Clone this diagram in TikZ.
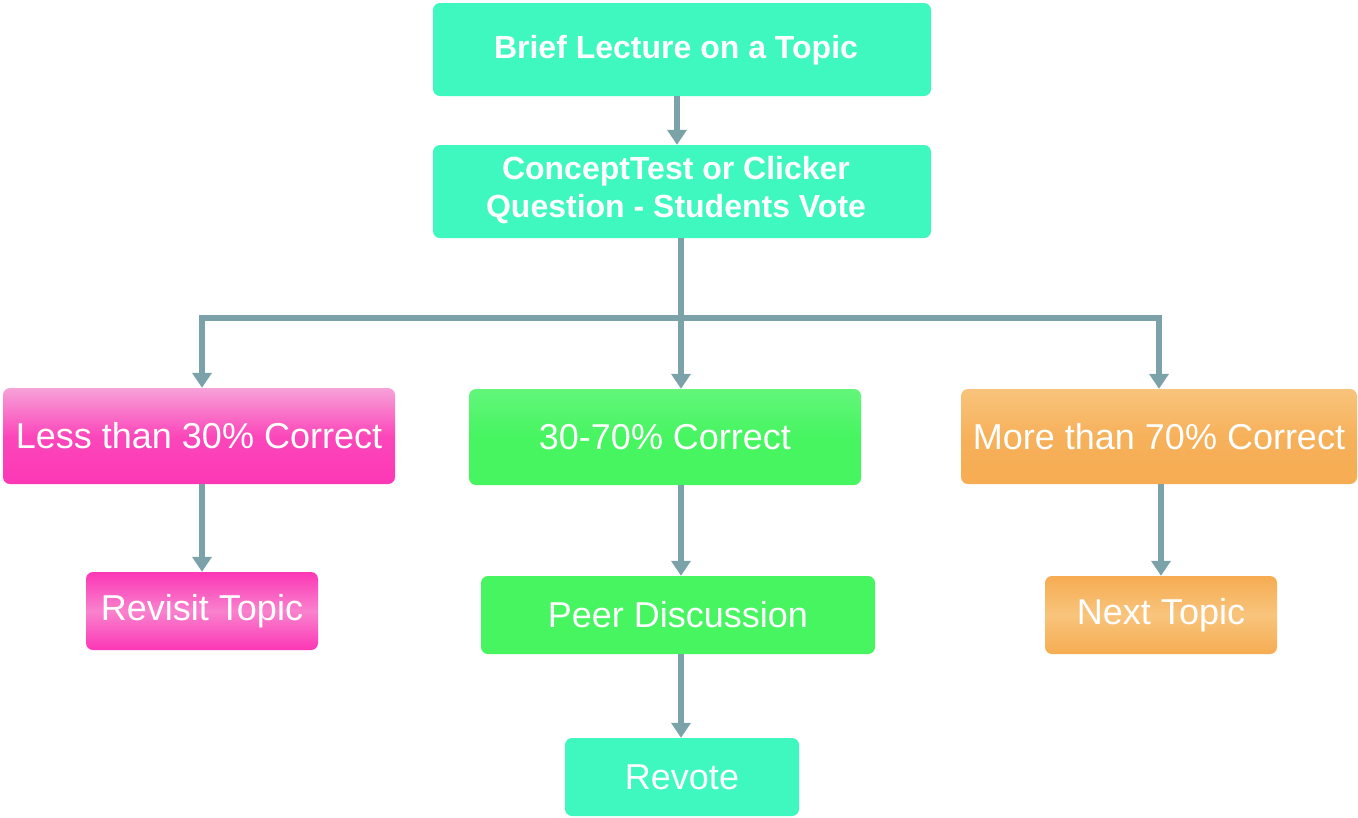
\documentclass[tikz,border=0pt]{standalone}
\usepackage{fontspec}
\setmainfont{Liberation Sans}
\usetikzlibrary{arrows.meta}
\definecolor{teal}{HTML}{3EF8BF}
\definecolor{grn}{HTML}{47F561}
\definecolor{grnL}{HTML}{62F67A}
\definecolor{pinkL}{HTML}{F7A2D8}
\definecolor{pinkD}{HTML}{FC37B5}
\definecolor{orgL}{HTML}{F8C47C}
\definecolor{orgD}{HTML}{F6AC52}
\definecolor{arrc}{HTML}{7AA2A8}
\tikzset{
  box/.style={rounded corners=7pt, text=white, align=center, inner sep=0pt, font=\fontsize{36}{40}\selectfont},
  tealbox/.style={box, fill=teal},
  greenbox/.style={box, top color=grnL, bottom color=grn, middle color=grn},
  pinkbox/.style={box, top color=pinkL, bottom color=pinkD, middle color=pinkD!85!pinkL},
  orangebox/.style={box, top color=orgL, bottom color=orgD, middle color=orgD!80!orgL},
  arr/.style={draw=arrc, line width=5.5pt, -{Triangle[width=19pt,length=15pt]}},
  ln/.style={draw=arrc, line width=5.5pt},
  boldtxt/.style={font=\fontsize{32}{38}\selectfont\bfseries, text height=0pt}
}
\begin{document}
\begin{tikzpicture}[x=1pt,y=-1pt]
\useasboundingbox (0,0) rectangle (1358,817);
\node[tealbox, minimum width=498pt, minimum height=93pt] (b1) at (682,49.5) {};
\node[tealbox, minimum width=498pt, minimum height=93pt] (b2) at (682,191.5) {};
\node[text=white, font=\fontsize{32}{38}\selectfont\bfseries, align=center] (t1) at (676,50) {Brief Lecture on a Topic};
\node[text=white, font=\fontsize{32}{38}\selectfont\bfseries, align=center] (t2) at (676,190) {ConceptTest or Clicker\\Question - Students Vote};
\node[pinkbox, minimum width=392pt, minimum height=96pt] (less) at (199,436) {Less than 30\% Correct};
\node[greenbox, minimum width=392pt, minimum height=96pt] (mid) at (665,437) {30-70\% Correct};
\node[orangebox, minimum width=396pt, minimum height=95pt] (more) at (1159,436.5) {More than 70\% Correct};
\node[pinkbox, minimum width=232pt, minimum height=78pt, top color=pinkD, middle color=pinkL!70!pinkD] (revisit) at (202,611) {Revisit Topic};
\node[greenbox, minimum width=394pt, minimum height=78pt, top color=grn] (peer) at (678,615) {Peer Discussion};
\node[tealbox, minimum width=234pt, minimum height=78pt] (revote) at (682,777) {Revote};
\node[orangebox, minimum width=232pt, minimum height=78pt, top color=orgD, middle color=orgL] (next) at (1161,615) {Next Topic};
\coordinate (bus) at (681,318);
\draw[arr] (b1.south -| 677,0) -- (b2.north -| 677,0);
\draw[ln] (b2.south -| bus) -- (bus);
\draw[arr] (bus) -| (less.north -| revisit.north);
\draw[arr] (bus) -| (more.north);
\draw[arr] (bus) -- (bus |- mid.north);
\draw[arr] (less.south -| revisit.north) -- (revisit.north);
\draw[arr] (bus |- mid.south) -- (bus |- peer.north);
\draw[arr] (bus |- peer.south) -- (bus |- revote.north);
\draw[arr] (more.south -| next.north) -- (next.north);
\end{tikzpicture}
\end{document}
